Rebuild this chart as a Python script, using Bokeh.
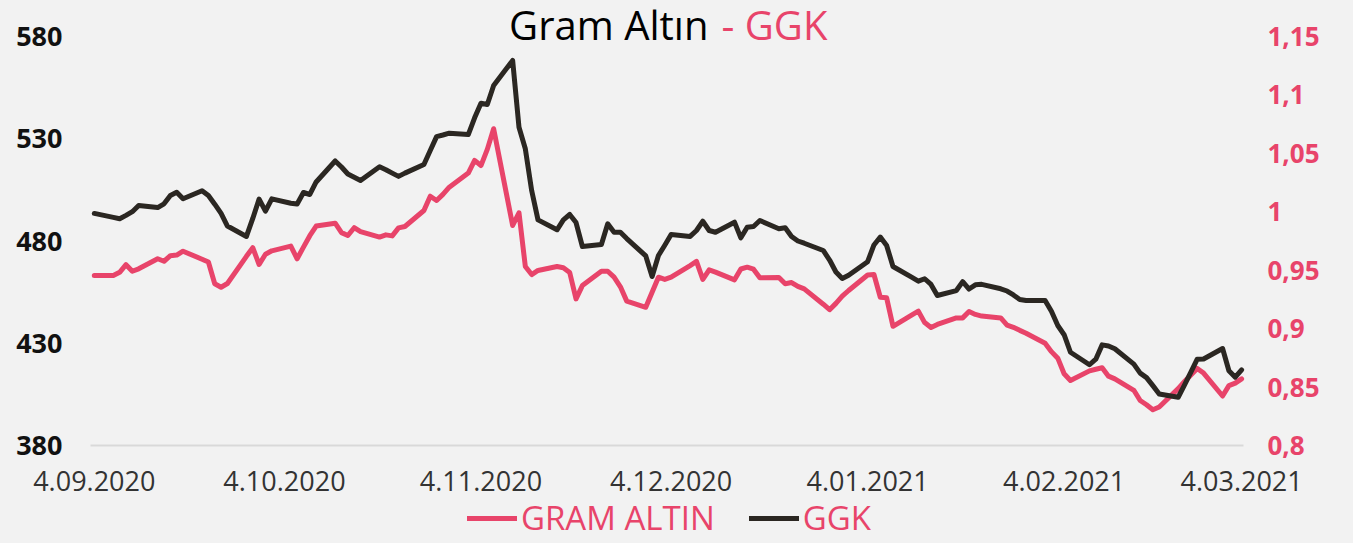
from datetime import datetime
import pandas as pd
from bokeh.plotting import figure
from bokeh.models import (Range1d, LinearAxis, FixedTicker, CustomJSTickFormatter,
                          Legend, LegendItem, Label)
from bokeh.embed import file_html
from bokeh.resources import INLINE

# ---------------- data ----------------
dates = pd.bdate_range("2020-09-04", "2021-03-04")

gram_altin = [
    463.1,
    463.1, 464.7, 468.4, 465.2, 466.4,
    471.3, 470.1, 472.8, 473.1, 475.0,
    471.1, 469.7, 459.1, 457.4, 459.2,
    472.5, 476.7, 468.5, 473.5, 475.2,
    477.5, 471.3, 477.0, 482.6, 487.3,
    488.7, 484.1, 482.7, 486.5, 484.6,
    481.9, 483.0, 482.5, 486.4, 487.1,
    494.9, 501.9, 499.8, 502.8, 506.3,
    513.2, 519.4, 516.9, 524.8, 534.9,
    487.6, 493.8, 467.5, 463.6, 465.6,
    467.5, 466.9, 464.6, 451.7, 458.2,
    465.2, 465.2, 462.3, 457.6, 450.6,
    447.6, 454.9, 462.3, 461.2, 462.3,
    468.0, 470.0, 461.2, 465.9, 464.8,
    461.0, 466.3, 467.2, 466.2, 462.0,
    462.2, 459.1, 459.7, 457.8, 456.6,
    449.1, 446.4, 449.5, 453.0, 455.8,
    463.4, 463.6, 452.5, 452.2, 438.3,
    443.9, 445.7, 440.1, 437.7, 439.2,
    442.4, 442.4, 445.5, 444.1, 443.3,
    442.4, 438.9, 437.8, 436.3, 434.9,
    430.0, 425.9, 422.7, 415.1, 411.8,
    416.5, 417.3, 418.0, 413.9, 412.6,
    407.0, 402.0, 399.9, 397.5, 398.8,
    407.8, 411.3, 414.5, 417.7, 415.4,
    404.2, 409.3, 410.5, 412.6,
]

ggk = [
    0.9986,
    0.9952, 0.9940, 0.9969, 1.0001, 1.0054,
    1.0036, 1.0068, 1.0139, 1.0167, 1.0112,
    1.0180, 1.0139, 1.0065, 0.9986, 0.9878,
    0.9789, 0.9943, 1.0109, 1.0005, 1.0111,
    1.0073, 1.0066, 1.0165, 1.0148, 1.0255,
    1.0435, 1.0383, 1.0323, 1.0295, 1.0268,
    1.0385, 1.0360, 1.0331, 1.0303, 1.0331,
    1.0405, 1.0524, 1.0643, 1.0657, 1.0673,
    1.0661, 1.0804, 1.0929, 1.0918, 1.1081,
    1.1295, 1.0724, 1.0539, 1.0182, 0.9931,
    0.9846, 0.9931, 0.9977, 0.9908, 0.9703,
    0.9720, 0.9897, 0.9825, 0.9825, 0.9771,
    0.9622, 0.9446, 0.9626, 0.9714, 0.9806,
    0.9789, 0.9840, 0.9919, 0.9840, 0.9825,
    0.9911, 0.9777, 0.9868, 0.9874, 0.9925,
    0.9855, 0.9863, 0.9789, 0.9750, 0.9731,
    0.9669, 0.9587, 0.9485, 0.9429, 0.9457,
    0.9573, 0.9716, 0.9784, 0.9712, 0.9532,
    0.9438, 0.9406, 0.9427, 0.9378, 0.9284,
    0.9326, 0.9402, 0.9339, 0.9375, 0.9379,
    0.9341, 0.9322, 0.9288, 0.9249, 0.9241,
    0.9241, 0.9148, 0.9027, 0.8948, 0.8798,
    0.8691, 0.8739, 0.8861, 0.8852, 0.8828,
    0.8696, 0.8619, 0.8581, 0.8512, 0.8441,
    0.8413, 0.8518, 0.8628, 0.8739, 0.8740,
    0.8830, 0.8640, 0.8585, 0.8648,
]

x_tick_dates = ["2020-09-04", "2020-10-04", "2020-11-04", "2020-12-04",
                "2021-01-04", "2021-02-04", "2021-03-04"]
left_ticks = [380, 430, 480, 530, 580]
right_ticks = [0.8, 0.85, 0.9, 0.95, 1.0, 1.05, 1.1, 1.15]

title_left = "Gram Altın"
title_right = "- GGK"
series_names = ["GRAM ALTIN", "GGK"]

# ---------------- style ----------------
PINK = "#E8446A"
DARK = "#2B2722"
BG = "#F2F2F2"
FONT = "Open Sans"

# plot area (where the axes sit) and the drawing canvas around it
AREA_START = pd.Timestamp("2020-09-03 09:36")
AREA_END = pd.Timestamp("2021-03-04 07:12")
PX_PER_DAY = 1153 / ((AREA_END - AREA_START) / pd.Timedelta(days=1))
X_START = AREA_START - pd.Timedelta(days=90 / PX_PER_DAY)
X_END = AREA_END + pd.Timedelta(days=110 / PX_PER_DAY)

LEFT_LO, LEFT_HI = 380 - 200 * 98 / 409, 380 + 200 * 445 / 409
RIGHT_LO, RIGHT_HI = 0.8 - 0.35 * 98 / 409, 0.8 + 0.35 * 445 / 409

def ms(ts):
    return ts.value // 10**6

p = figure(frame_width=1353, frame_height=543, x_axis_type="datetime",
           x_range=Range1d(X_START.to_pydatetime(), X_END.to_pydatetime()),
           y_range=Range1d(LEFT_LO, LEFT_HI),
           output_backend="svg", toolbar_location=None,
           min_border_left=0, min_border_right=0, min_border_top=0, min_border_bottom=0,
           background_fill_color=BG, border_fill_color=BG)
p.outline_line_color = None
p.xgrid.visible = False
p.ygrid.visible = False

p.extra_y_ranges = {"ggk": Range1d(RIGHT_LO, RIGHT_HI)}

r1 = p.line(dates, gram_altin, line_color=PINK, line_width=5, line_join="round", line_cap="round")
r2 = p.line(dates, ggk, line_color=DARK, line_width=5, line_join="round", line_cap="round",
            y_range_name="ggk")

# x axis, pinned to the 380 baseline; its line spans only the plot area
xa = p.xaxis[0]
xa.fixed_location = 380
xa.ticker = FixedTicker(ticks=[ms(pd.Timestamp(d)) for d in x_tick_dates])
xa.formatter = CustomJSTickFormatter(code="""
const d = new Date(tick);
return d.getUTCDate() + '.' + String(d.getUTCMonth() + 1).padStart(2, '0') + '.' + d.getUTCFullYear();
""")
xa.bounds = (ms(AREA_START), ms(AREA_END))
xa.axis_line_color = "#D9D9D9"
xa.axis_line_width = 2
xa.major_tick_line_color = None
xa.minor_tick_line_color = None
xa.major_label_text_font = FONT
xa.major_label_text_font_size = "27px"
xa.major_label_text_color = "#333333"
xa.major_label_standoff = 19

# left axis, pinned to the left edge of the plot area
ya = p.yaxis[0]
ya.fixed_location = ms(AREA_START)
ya.ticker = FixedTicker(ticks=left_ticks)
ya.axis_line_color = None
ya.major_tick_line_color = None
ya.minor_tick_line_color = None
ya.major_label_text_font = FONT
ya.major_label_text_font_style = "bold"
ya.major_label_text_font_size = "27px"
ya.major_label_text_color = "#111111"
ya.major_label_standoff = 22

# right axis, pinned to the right edge of the plot area
ra = LinearAxis(y_range_name="ggk", ticker=FixedTicker(ticks=right_ticks),
                fixed_location=ms(AREA_END))
ra.formatter = CustomJSTickFormatter(code="return String(Math.round(tick * 100) / 100).replace('.', ',');")
ra.axis_line_color = None
ra.major_tick_line_color = None
ra.minor_tick_line_color = None
ra.major_label_text_font = FONT
ra.major_label_text_font_style = "bold"
ra.major_label_text_font_size = "26px"
ra.major_label_text_color = PINK
ra.major_label_standoff = 18
p.add_layout(ra, "right")

# title as two coloured labels
tx = datetime(2020, 12, 9, 21, 24)
p.add_layout(Label(x=tx, y=580, text=title_left, text_align="right", text_baseline="middle",
                   y_offset=12, text_font=FONT, text_font_size="40px", text_color="#000000"))
p.add_layout(Label(x=tx, y=580, text=title_right, text_align="left", text_baseline="middle",
                   x_offset=13, y_offset=12, text_font=FONT, text_font_size="40px",
                   text_color=PINK))

legend = Legend(items=[LegendItem(label=series_names[0], renderers=[r1]),
                       LegendItem(label=series_names[1], renderers=[r2])],
                orientation="horizontal", location=(467, 3),
                label_text_font=FONT, label_text_font_size="33px", label_text_color=PINK,
                glyph_width=50, glyph_height=30, label_standoff=4, spacing=34,
                padding=0, margin=0, background_fill_alpha=0, border_line_color=None)
p.add_layout(legend, "center")

html = file_html(p, INLINE)
html = html.replace("<head>", "<head><style>body{background:#f2f2f2;}</style>", 1)
open("out.html", "w").write(html)
